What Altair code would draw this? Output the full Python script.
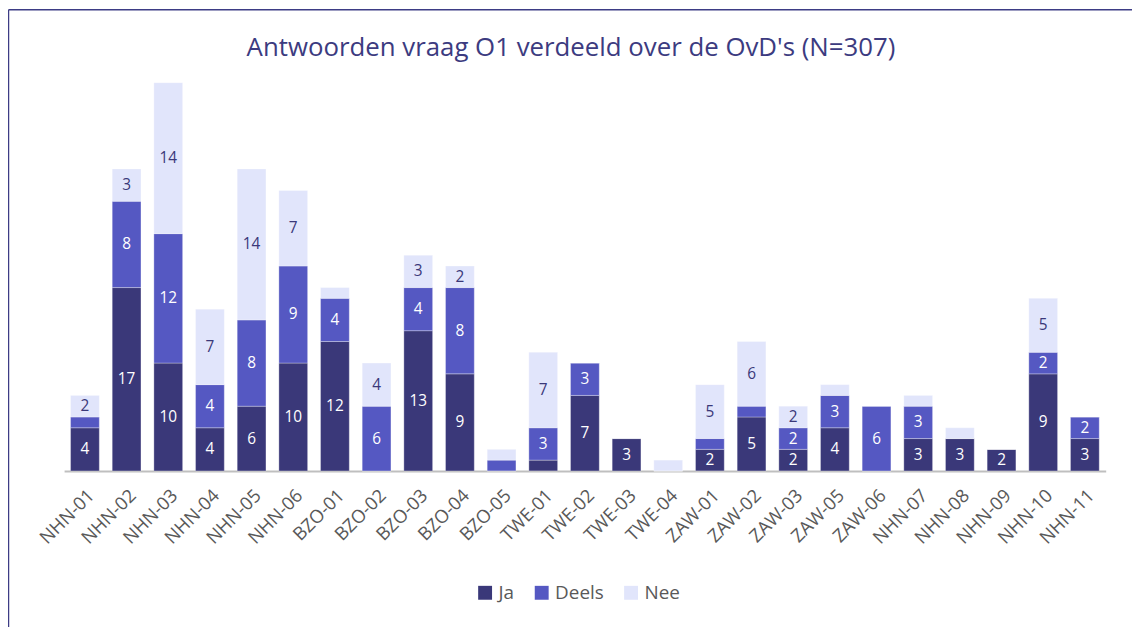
import altair as alt
import pandas as pd

categories = ["NHN-01", "NHN-02", "NHN-03", "NHN-04", "NHN-05", "NHN-06",
              "BZO-01", "BZO-02", "BZO-03", "BZO-04", "BZO-05",
              "TWE-01", "TWE-02", "TWE-03", "TWE-04",
              "ZAW-01", "ZAW-02", "ZAW-03", "ZAW-05", "ZAW-06",
              "NHN-07", "NHN-08", "NHN-09", "NHN-10", "NHN-11"]
ja =    [4, 17, 10, 4, 6, 10, 12, 0, 13, 9, 0, 1, 7, 3, 0, 2, 5, 2, 4, 0, 3, 3, 2, 9, 3]
deels = [1, 8, 12, 4, 8, 9, 4, 6, 4, 8, 1, 3, 3, 0, 0, 1, 1, 2, 3, 6, 3, 0, 0, 2, 2]
nee =   [2, 3, 14, 7, 14, 7, 1, 4, 3, 2, 1, 7, 0, 0, 1, 5, 6, 2, 1, 0, 1, 1, 0, 5, 0]

title_text = "Antwoorden vraag O1 verdeeld over de OvD's (N=307)"

series = ["Ja", "Deels", "Nee"]
colors = ["#3a3879", "#5558c2", "#e1e5fb"]

rows = []
for i, c in enumerate(categories):
    for k, (s, vals) in enumerate(zip(series, [ja, deels, nee])):
        rows.append({"OvD": c, "Antwoord": s, "Aantal": vals[i], "volgorde": k})
df = pd.DataFrame(rows)

FONT = "Open Sans"

x_enc = alt.X("OvD:N", sort=categories,
              scale=alt.Scale(paddingInner=0.31, paddingOuter=0.155),
              axis=alt.Axis(title=None, labelAngle=-45, labelAlign="right",
                            labelBaseline="top", labelFontSize=18.5,
                            labelFont=FONT, labelColor="#595959",
                            labelPadding=15, ticks=False, grid=False,
                            domainColor="#bfbfbf", domainWidth=2))
y_scale = alt.Scale(domain=[0, 36], nice=False)

base = alt.Chart(df)

bars = base.mark_bar(stroke="white", strokeWidth=0.6, strokeOpacity=0.5).encode(
    x=x_enc,
    y=alt.Y("Aantal:Q", stack="zero", scale=y_scale, axis=None),
    color=alt.Color("Antwoord:N", sort=series,
                    scale=alt.Scale(domain=series, range=colors),
                    legend=alt.Legend(title=None, orient="none", legendX=414.5,
                                      legendY=504, direction="horizontal",
                                      symbolType="square", symbolSize=196,
                                      symbolStrokeWidth=0, labelFont=FONT,
                                      labelFontSize=19, labelColor="#595959",
                                      labelOffset=4, columnPadding=18)),
    order=alt.Order("volgorde:Q", sort="ascending"),
)

labels = base.transform_stack(
    stack="Aantal", groupby=["OvD"], as_=["y0", "y1"],
    sort=[alt.SortField("volgorde", order="ascending")]
).transform_calculate(
    mid="(datum.y0 + datum.y1) / 2"
).transform_filter(
    "datum.Aantal >= 2"
).mark_text(font=FONT, fontSize=15.5, baseline="middle").encode(
    x=x_enc,
    y=alt.Y("mid:Q", scale=y_scale, axis=None),
    text=alt.Text("Aantal:Q"),
    color=alt.condition("datum.Antwoord == 'Nee'", alt.value("#3a3879"), alt.value("white")),
)

frame_df = pd.DataFrame({"k": [0]})
frame_left = alt.Chart(frame_df).mark_rule(color="#3d3c85", strokeWidth=1.5).encode(
    x=alt.value(-56), y=alt.value(-73.5), y2=alt.value(700))
frame_top = alt.Chart(frame_df).mark_rule(color="#3d3c85", strokeWidth=1.5).encode(
    x=alt.value(-56), x2=alt.value(1200), y=alt.value(-73.5))

title_df = pd.DataFrame({"t": [title_text]})
title = alt.Chart(title_df).mark_text(
    font=FONT, fontSize=26, color="#3c3b80", align="center", baseline="alphabetic"
).encode(x=alt.value(510.5), y=alt.value(-27), text="t:N")

chart = alt.layer(bars, labels, frame_left, frame_top, title).properties(
    width=1049, height=391,
    autosize=alt.AutoSizeParams(type="none"),
    padding={"left": 56.5, "top": 73, "right": 26.5, "bottom": 155},
).configure_view(stroke=None)

chart.save("out.html", embed_options={"renderer": "svg", "actions": False})
